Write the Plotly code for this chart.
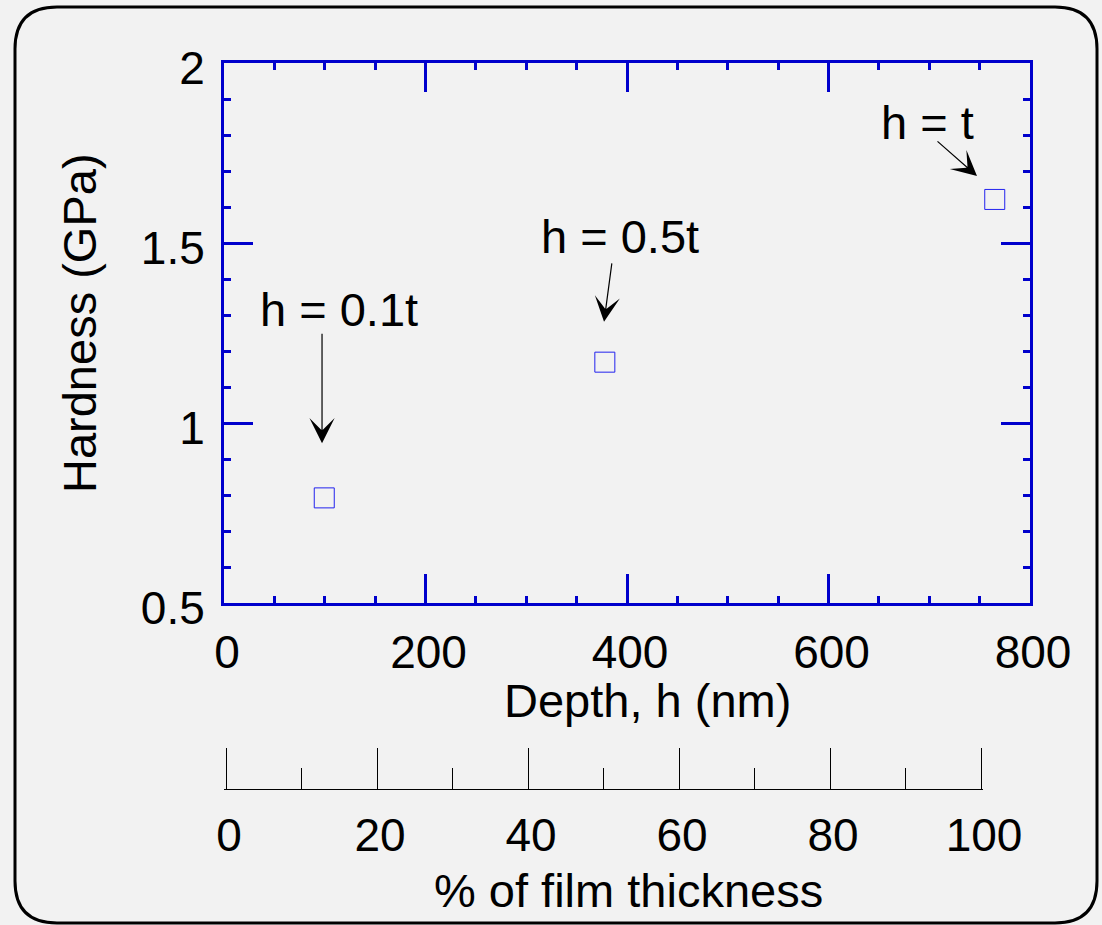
import plotly.graph_objects as go

# ---- data ----
depth_nm = [99.5, 378, 765]
hardness_gpa = [0.792, 1.169, 1.621]
point_labels = ["h = 0.1t", "h = 0.5t", "h = t"]

x_ticks = [0, 200, 400, 600, 800]
y_ticks = [0.5, 1, 1.5, 2]
pct_ticks = [0, 20, 40, 60, 80, 100]

# ---- geometry helpers (pixel -> paper) ----
W, H = 1102, 925
L, R, T, B = 224, 72, 63, 136
PW, PH = W - L - R, H - T - B


def px(xp):
    return (xp - L) / PW


def py(yp):
    return (H - B - yp) / PH


FONT = "Liberation Sans, Arial, sans-serif"
BLUE = "#0000cc"
PAD = 0.2  # small range padding so that the end ticks of the % axis are drawn

fig = go.Figure()
fig.add_trace(go.Scatter(
    x=depth_nm, y=hardness_gpa, mode="markers",
    marker=dict(symbol="square-open", size=20, color="#2222ee", line=dict(width=1, color="#2222ee")),
    showlegend=False, hoverinfo="x+y",
))
# dummy trace so the secondary (% of film thickness) axis is drawn
fig.add_trace(go.Scatter(x=[None], y=[None], xaxis="x2", yaxis="y2", showlegend=False))

pct_px = (981 - 226) / 100.0

fig.update_layout(
    width=W, height=H,
    margin=dict(l=L, r=R, t=T, b=B),
    paper_bgcolor="#f2f2f2", plot_bgcolor="#f2f2f2",
    font=dict(family=FONT, size=46, color="black"),
    xaxis=dict(
        domain=[0, 1], anchor="y", range=[0, 800],
        tickvals=x_ticks, ticktext=[str(v) for v in x_ticks],
        showgrid=False, zeroline=False,
        showline=True, linecolor=BLUE, linewidth=3, mirror="ticks",
        ticks="inside", ticklen=29, tickwidth=3, tickcolor=BLUE,
        minor=dict(dtick=50, ticks="inside", ticklen=7, tickwidth=3, tickcolor=BLUE, showgrid=False),
        tickfont=dict(size=46, family=FONT, color="black"),
        ticklabelstandoff=7, ticklabelshift=3,
    ),
    yaxis=dict(
        domain=[py(603), 1], anchor="x", range=[0.5, 2],
        tickvals=y_ticks, ticktext=["0.5", "1", "1.5", "2"],
        showgrid=False, zeroline=False,
        showline=True, linecolor=BLUE, linewidth=3, mirror="ticks",
        ticks="inside", ticklen=29, tickwidth=3, tickcolor=BLUE,
        minor=dict(dtick=0.1, ticks="inside", ticklen=7, tickwidth=3, tickcolor=BLUE, showgrid=False),
        tickfont=dict(size=46, family=FONT, color="black"),
        ticklabelstandoff=7, ticklabelshift=5,
    ),
    xaxis2=dict(
        domain=[px(226 - PAD * pct_px), px(981 + PAD * pct_px)], anchor="y2", range=[-PAD, 100 + PAD],
        tickvals=pct_ticks, ticktext=[str(v) for v in pct_ticks],
        showgrid=False, zeroline=False,
        showline=True, linecolor="black", linewidth=1,
        ticks="inside", ticklen=41, tickwidth=1, tickcolor="black",
        minor=dict(dtick=10, ticks="inside", ticklen=21, tickwidth=1, tickcolor="black", showgrid=False),
        tickfont=dict(size=46, family=FONT, color="black"),
        ticklabelstandoff=6, ticklabelshift=3,
    ),
    yaxis2=dict(domain=[0, 0.005], anchor="x2", visible=False, range=[0, 1]),
)

# axis titles
fig.add_annotation(text="Depth, h (nm)", xref="paper", yref="paper",
                   x=px(647.5), y=py(700), showarrow=False,
                   font=dict(size=47, family=FONT, color="black"), xanchor="center", yanchor="middle")
fig.add_annotation(text="Hardness (GPa)", xref="paper", yref="paper",
                   x=px(80), y=py(323), showarrow=False, textangle=-90,
                   font=dict(size=47, family=FONT, color="black"), xanchor="center", yanchor="middle")
fig.add_annotation(text="% of film thickness", xref="paper", yref="paper",
                   x=px(628.5), y=py(890), showarrow=False,
                   font=dict(size=47, family=FONT, color="black"), xanchor="center", yanchor="middle")

# point labels and arrows
label_pos = [(114.1, 1.314), (393, 1.517), (698.3, 1.835)]
arrow_tip = [(97.3, 0.944), (377.2, 1.281), (747.4, 1.686)]
arrow_off = [(0, -111), (8, -60), (-41, -36)]
for txt, (lx, ly), (tx, ty), (ax, ay) in zip(point_labels, label_pos, arrow_tip, arrow_off):
    fig.add_annotation(text=txt, x=lx, y=ly, xref="x", yref="y", showarrow=False,
                       font=dict(size=47, family=FONT, color="black"), xanchor="center", yanchor="middle")
    fig.add_annotation(text="", x=tx, y=ty, xref="x", yref="y", showarrow=True,
                       ax=ax, ay=ay, axref="pixel", ayref="pixel",
                       arrowhead=3, arrowsize=3.5, arrowwidth=1.2, arrowcolor="black", standoff=0)

# rounded outer frame
x0, x1, y0, y1, r = 15, 1097, 7, 923, 42
path = (f"M {px(x0 + r)},{py(y0)} L {px(x1 - r)},{py(y0)} "
        f"Q {px(x1)},{py(y0)} {px(x1)},{py(y0 + r)} "
        f"L {px(x1)},{py(y1 - r)} Q {px(x1)},{py(y1)} {px(x1 - r)},{py(y1)} "
        f"L {px(x0 + r)},{py(y1)} Q {px(x0)},{py(y1)} {px(x0)},{py(y1 - r)} "
        f"L {px(x0)},{py(y0 + r)} Q {px(x0)},{py(y0)} {px(x0 + r)},{py(y0)} Z")
fig.add_shape(type="path", path=path, xref="paper", yref="paper",
              line=dict(color="black", width=3), layer="below")

fig.write_html("out.html")
